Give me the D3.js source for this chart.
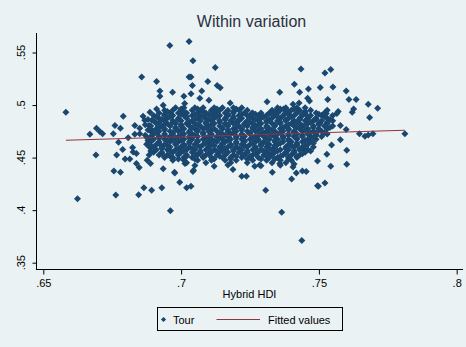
<!DOCTYPE html>
<html>
<head>
<meta charset="utf-8">
<script src="https://cdn.jsdelivr.net/npm/d3@7"></script>
<style>
  body { margin: 0; background: #eaf2f3; }
  svg { display: block; font-family: "Liberation Sans", Arial, sans-serif; }
</style>
</head>
<body>
<div id="chart"></div>
<script>
const title = "Within variation";
const xLabel = "Hybrid HDI";
const xTicks = [0.65, 0.7, 0.75, 0.8];
const yTicks = [0.35, 0.4, 0.45, 0.5, 0.55];
const legendLabels = ["Tour", "Fitted values"];

// fitted values (linear fit endpoints)
const fitX = [0.6582, 0.7812];
const fitY = [0.4665, 0.4760];

// scattered points around the cloud [hdi, tour]
const outer = [
  [0.6582,0.4931],[0.6624,0.4108],[0.6857,0.5267],[0.6911,0.5224],[0.6923,0.5134],[0.6923,0.5084],
  [0.6969,0.5122],[0.7010,0.5084],[0.7029,0.5267],[0.6790,0.4893],[0.6760,0.4805],[0.6780,0.4779],
  [0.6693,0.4779],[0.6705,0.4748],[0.6715,0.4728],[0.6669,0.4722],[0.6754,0.4728],[0.6832,0.4805],
  [0.6832,0.4722],[0.6862,0.4893],[0.6887,0.4931],[0.6911,0.4963],[0.6935,0.4998],[0.6773,0.4646],
  [0.6788,0.4576],[0.6824,0.4595],[0.6691,0.4525],[0.6766,0.4525],[0.6797,0.4487],[0.6814,0.4487],
  [0.6826,0.4553],[0.6838,0.4443],[0.6848,0.4405],[0.6756,0.4372],[0.6780,0.4360],[0.6877,0.4474],
  [0.6889,0.4443],[0.6935,0.4395],[0.6977,0.4353],[0.6995,0.4265],[0.6865,0.4214],[0.6893,0.4189],
  [0.6930,0.4214],[0.6846,0.4146],[0.6763,0.4144],[0.7020,0.4214],[0.6961,0.3994],[0.6976,0.4360],
  [0.7036,0.4227],[0.7043,0.4367],[0.7014,0.4443],[0.7188,0.4386],[0.7220,0.4322],[0.7237,0.4322],
  [0.7307,0.4189],[0.7365,0.3979],[0.7438,0.3712],[0.7331,0.4360],[0.7406,0.4411],[0.7401,0.4296],
  [0.7418,0.4353],[0.7440,0.4372],[0.7454,0.4367],[0.7495,0.4468],[0.7495,0.4233],[0.7285,0.4430],
  [0.7358,0.4443],[0.7812,0.4728],[0.7601,0.4569],[0.7529,0.4531],[0.7543,0.4417],[0.7601,0.4436],
  [0.7522,0.4258],[0.7498,0.4227],[0.7647,0.4728],[0.7667,0.4703],[0.7679,0.4715],[0.7696,0.4728],
  [0.7578,0.4671],[0.7546,0.4620],[0.7447,0.4569],[0.7435,0.5343],[0.7522,0.5305],[0.7543,0.5338],
  [0.7505,0.5166],[0.7551,0.5172],[0.7599,0.5134],[0.7462,0.5153],[0.7430,0.5122],[0.7532,0.5052],
  [0.7609,0.5052],[0.7635,0.5052],[0.7679,0.5007],[0.7713,0.4969],[0.7459,0.5065],[0.7466,0.5039],
  [0.7626,0.4963],[0.7621,0.4931],[0.7570,0.4938],[0.7565,0.4919],[0.7684,0.4881],[0.7578,0.4805],
  [0.7449,0.4931],[0.7527,0.4919],[0.7485,0.4862],[0.7503,0.4824],[0.7411,0.5198],[0.7406,0.5007],
  [0.7372,0.4963],[0.7599,0.4767],[0.6959,0.5566],[0.7029,0.5604],[0.7043,0.5422],[0.7124,0.5357],
  [0.7036,0.5267],[0.7041,0.5185],[0.7097,0.5224],[0.7131,0.5185],[0.7142,0.5164],[0.7036,0.5107],
  [0.7075,0.5134],[0.7068,0.5065],[0.7101,0.5046],[0.7178,0.5020],[0.7358,0.5122],[0.7312,0.5031],
  [0.7428,0.5020],[0.7256,0.4919],[0.7013,0.5014],[0.7267,0.4417],[0.7045,0.4379],
  [0.6808,0.4690],[0.6850,0.4728],[0.6877,0.4690],[0.6838,0.4538],[0.6884,0.4525],[0.6887,0.4595],
  [0.6875,0.4627],[0.6884,0.4805],[0.6868,0.4855],[0.6850,0.4779],[0.6894,0.4760],[0.6894,0.4855],
  [0.7050,0.4425],[0.7120,0.4418],[0.7170,0.4430],[0.7290,0.4422],[0.7360,0.4428],[0.7410,0.4438]
];

// dense core of the cloud: [tour, list of hdi values]
const coreRows = [
  [0.4975, [0.698,0.701,0.705,0.708,0.712,0.715,0.719,0.722,0.735,0.738,0.742,0.745]],
  [0.4950, [0.694,0.697,0.700,0.704,0.707,0.711,0.714,0.717,0.721,0.724,0.733,0.736,0.740,0.743,0.747,0.753]],
  [0.4925, [0.692,0.696,0.699,0.702,0.706,0.709,0.712,0.716,0.719,0.723,0.726,0.729,0.732,0.735,0.738,0.742,0.745,0.749,0.752]],
  [0.4900, [0.690,0.694,0.697,0.701,0.704,0.707,0.711,0.714,0.717,0.721,0.724,0.728,0.731,0.734,0.737,0.741,0.744,0.747,0.751,0.755]],
  [0.4875, [0.692,0.695,0.699,0.702,0.706,0.709,0.712,0.716,0.719,0.722,0.726,0.729,0.733,0.736,0.739,0.743,0.746,0.749,0.753]],
  [0.4850, [0.690,0.694,0.697,0.700,0.704,0.707,0.711,0.714,0.718,0.721,0.724,0.728,0.731,0.735,0.738,0.741,0.745,0.748,0.751,0.755]],
  [0.4825, [0.691,0.695,0.698,0.702,0.705,0.709,0.712,0.716,0.719,0.723,0.726,0.729,0.733,0.736,0.740,0.743,0.746,0.750,0.753]],
  [0.4800, [0.689,0.693,0.696,0.700,0.703,0.707,0.710,0.714,0.717,0.721,0.724,0.727,0.731,0.734,0.738,0.741,0.744,0.748,0.752,0.755]],
  [0.4775, [0.691,0.694,0.698,0.701,0.705,0.708,0.712,0.715,0.719,0.722,0.726,0.729,0.732,0.736,0.739,0.743,0.746,0.750,0.753]],
  [0.4750, [0.689,0.692,0.696,0.699,0.703,0.706,0.710,0.713,0.717,0.720,0.724,0.727,0.731,0.734,0.737,0.741,0.744,0.748,0.751]],
  [0.4725, [0.690,0.694,0.697,0.701,0.704,0.708,0.711,0.715,0.718,0.722,0.725,0.729,0.732,0.735,0.739,0.742,0.746,0.749,0.753]],
  [0.4700, [0.689,0.692,0.696,0.699,0.703,0.706,0.710,0.713,0.717,0.720,0.723,0.727,0.730,0.734,0.737,0.741,0.744,0.747,0.751]],
  [0.4675, [0.690,0.694,0.697,0.701,0.704,0.708,0.711,0.715,0.718,0.722,0.725,0.728,0.732,0.735,0.739,0.742,0.746,0.749]],
  [0.4650, [0.689,0.692,0.696,0.699,0.703,0.706,0.710,0.713,0.716,0.720,0.723,0.727,0.730,0.734,0.737,0.740,0.744,0.747]],
  [0.4625, [0.691,0.694,0.698,0.701,0.705,0.708,0.711,0.715,0.718,0.722,0.725,0.729,0.732,0.735,0.739,0.742,0.746]],
  [0.4600, [0.690,0.693,0.696,0.700,0.703,0.707,0.710,0.714,0.717,0.720,0.724,0.727,0.731,0.734,0.738,0.741,0.744,0.748]],
  [0.4575, [0.691,0.695,0.698,0.702,0.705,0.709,0.712,0.715,0.719,0.722,0.726,0.729,0.733,0.736,0.739,0.743,0.746]],
  [0.4550, [0.690,0.693,0.697,0.700,0.704,0.707,0.711,0.714,0.717,0.721,0.724,0.728,0.731,0.734,0.738,0.741,0.745]],
  [0.4525, [0.692,0.695,0.699,0.702,0.706,0.709,0.713,0.716,0.719,0.723,0.726,0.730,0.733,0.737,0.740,0.743]],
  [0.4500, [0.694,0.697,0.701,0.704,0.708,0.711,0.715,0.718,0.722,0.725,0.728,0.732,0.735,0.739,0.742]],
  [0.4475, [0.697,0.701,0.706,0.711,0.716,0.720,0.726,0.731,0.736,0.740]],
  [0.4450, [0.702,0.709,0.718,0.724,0.733,0.738]]
];

// in-between rows of the core
const coreRowsMid = [
  [0.49625, [0.700,0.706,0.713,0.720,0.736,0.741]],
  [0.49375, [0.695,0.701,0.708,0.713,0.719,0.734,0.739,0.745]],
  [0.49125, [0.694,0.700,0.705,0.710,0.717,0.722,0.727,0.733,0.739,0.744,0.750]],
  [0.48875, [0.691,0.696,0.702,0.708,0.713,0.719,0.725,0.730,0.735,0.740,0.746,0.752]],
  [0.48625, [0.688,0.693,0.699,0.705,0.710,0.716,0.721,0.727,0.732,0.738,0.743,0.749,0.754]],
  [0.48375, [0.692,0.697,0.703,0.709,0.714,0.720,0.725,0.731,0.736,0.742,0.747,0.753]],
  [0.48125, [0.687,0.694,0.700,0.706,0.711,0.717,0.723,0.728,0.734,0.739,0.745,0.750]],
  [0.47875, [0.692,0.698,0.704,0.709,0.715,0.720,0.726,0.731,0.737,0.742,0.748,0.754]],
  [0.47625, [0.688,0.694,0.700,0.706,0.711,0.717,0.722,0.728,0.733,0.739,0.745,0.750]],
  [0.47375, [0.691,0.697,0.703,0.708,0.714,0.719,0.725,0.730,0.736,0.741,0.747,0.752]],
  [0.47125, [0.687,0.694,0.700,0.705,0.711,0.716,0.722,0.728,0.733,0.739,0.744,0.749]],
  [0.46875, [0.692,0.698,0.703,0.709,0.714,0.720,0.726,0.731,0.737,0.742,0.748]],
  [0.46625, [0.688,0.695,0.700,0.706,0.712,0.717,0.723,0.728,0.734,0.739,0.745]],
  [0.46375, [0.692,0.698,0.703,0.709,0.715,0.720,0.726,0.731,0.736,0.742,0.748]],
  [0.46125, [0.689,0.695,0.701,0.706,0.712,0.718,0.723,0.729,0.734,0.740,0.745]],
  [0.45875, [0.693,0.699,0.704,0.710,0.716,0.721,0.727,0.732,0.738,0.743]],
  [0.45625, [0.689,0.696,0.701,0.707,0.713,0.719,0.724,0.730,0.735,0.741,0.747]],
  [0.45375, [0.693,0.699,0.705,0.710,0.716,0.722,0.727,0.732,0.738,0.744]],
  [0.45125, [0.696,0.702,0.708,0.714,0.720,0.725,0.731,0.736,0.742]],
  [0.44875, [0.699,0.705,0.712,0.718,0.724,0.729,0.734,0.739]]
];

const points = outer.map(d => ({ x: d[0], y: d[1] }));
coreRows.concat(coreRowsMid)
  .forEach(([yv, xs]) => xs.forEach(xv => points.push({ x: xv, y: yv })));

const W = 466, H = 347;
const bg = "#eaf2f3", navy = "#1a476f", maroon = "#90353b";
const diamond = r => `M0,${-r}L${r},0L0,${r}L${-r},0Z`;
const fmt = v => String(v).replace(/^0/, "");

const svg = d3.select("#chart").append("svg")
  .attr("width", W)
  .attr("height", H);

svg.append("rect").attr("width", W).attr("height", H).attr("fill", bg);

const x = d3.scaleLinear().domain([0.65, 0.8]).range([43.3, 456.7]);
const y = d3.scaleLinear().domain([0.35, 0.55]).range([262.7, 52.5]);

const axisX = 36.5, axisY = 269.5;

// points
svg.append("g")
  .selectAll("path")
  .data(points)
  .join("path")
  .attr("d", diamond(3.5))
  .attr("transform", d => `translate(${x(d.x)},${y(d.y)})`)
  .attr("fill", navy);

// fitted line
svg.append("path")
  .datum(fitX.map((v, i) => ({ x: v, y: fitY[i] })))
  .attr("fill", "none")
  .attr("stroke", maroon)
  .attr("stroke-width", 1.2)
  .attr("d", d3.line().x(d => x(d.x)).y(d => y(d.y)));

// x axis
const gx = svg.append("g")
  .attr("transform", `translate(0,${axisY})`)
  .call(d3.axisBottom(x).tickValues(xTicks).tickSize(5).tickPadding(4.5).tickFormat(fmt));
gx.select(".domain").remove();
gx.selectAll("line").attr("stroke", "#000");
gx.selectAll("text").attr("font-size", 11).attr("fill", "#000").attr("font-family", null);
svg.append("line")
  .attr("x1", axisX - 0.5).attr("x2", 463)
  .attr("y1", axisY).attr("y2", axisY)
  .attr("stroke", "#000");

// y axis
const gy = svg.append("g")
  .attr("transform", `translate(${axisX},0)`)
  .call(d3.axisLeft(y).tickValues(yTicks).tickSize(4).tickFormat(""));
gy.select(".domain").remove();
gy.selectAll("line").attr("stroke", "#000");
svg.append("line")
  .attr("x1", axisX).attr("x2", axisX)
  .attr("y1", 33).attr("y2", axisY + 0.5)
  .attr("stroke", "#000");

svg.append("g")
  .selectAll("text")
  .data(yTicks)
  .join("text")
  .attr("transform", d => `translate(25,${y(d)}) rotate(-90)`)
  .attr("text-anchor", "middle")
  .attr("font-size", 11)
  .attr("fill", "#000")
  .text(fmt);

// titles
svg.append("text")
  .attr("x", 251.5).attr("y", 26.5)
  .attr("text-anchor", "middle")
  .attr("font-size", 16)
  .attr("fill", "#2a3140")
  .text(title);

svg.append("text")
  .attr("x", 249.5).attr("y", 298)
  .attr("text-anchor", "middle")
  .attr("font-size", 11)
  .attr("fill", "#000")
  .text(xLabel);

// legend
const lg = svg.append("g");
lg.append("rect")
  .attr("x", 157.5).attr("y", 307.5)
  .attr("width", 185).attr("height", 23)
  .attr("fill", bg)
  .attr("stroke", "#000");
lg.append("path")
  .attr("d", diamond(2.6))
  .attr("transform", "translate(163.5,319.5)")
  .attr("fill", navy);
lg.append("text")
  .attr("x", 173).attr("y", 323.5)
  .attr("font-size", 11).attr("fill", "#000")
  .text(legendLabels[0]);
lg.append("line")
  .attr("x1", 216.5).attr("x2", 260)
  .attr("y1", 319.5).attr("y2", 319.5)
  .attr("stroke", maroon).attr("stroke-width", 1.2);
lg.append("text")
  .attr("x", 268).attr("y", 323.5)
  .attr("font-size", 11).attr("fill", "#000")
  .text(legendLabels[1]);
</script>
</body>
</html>
